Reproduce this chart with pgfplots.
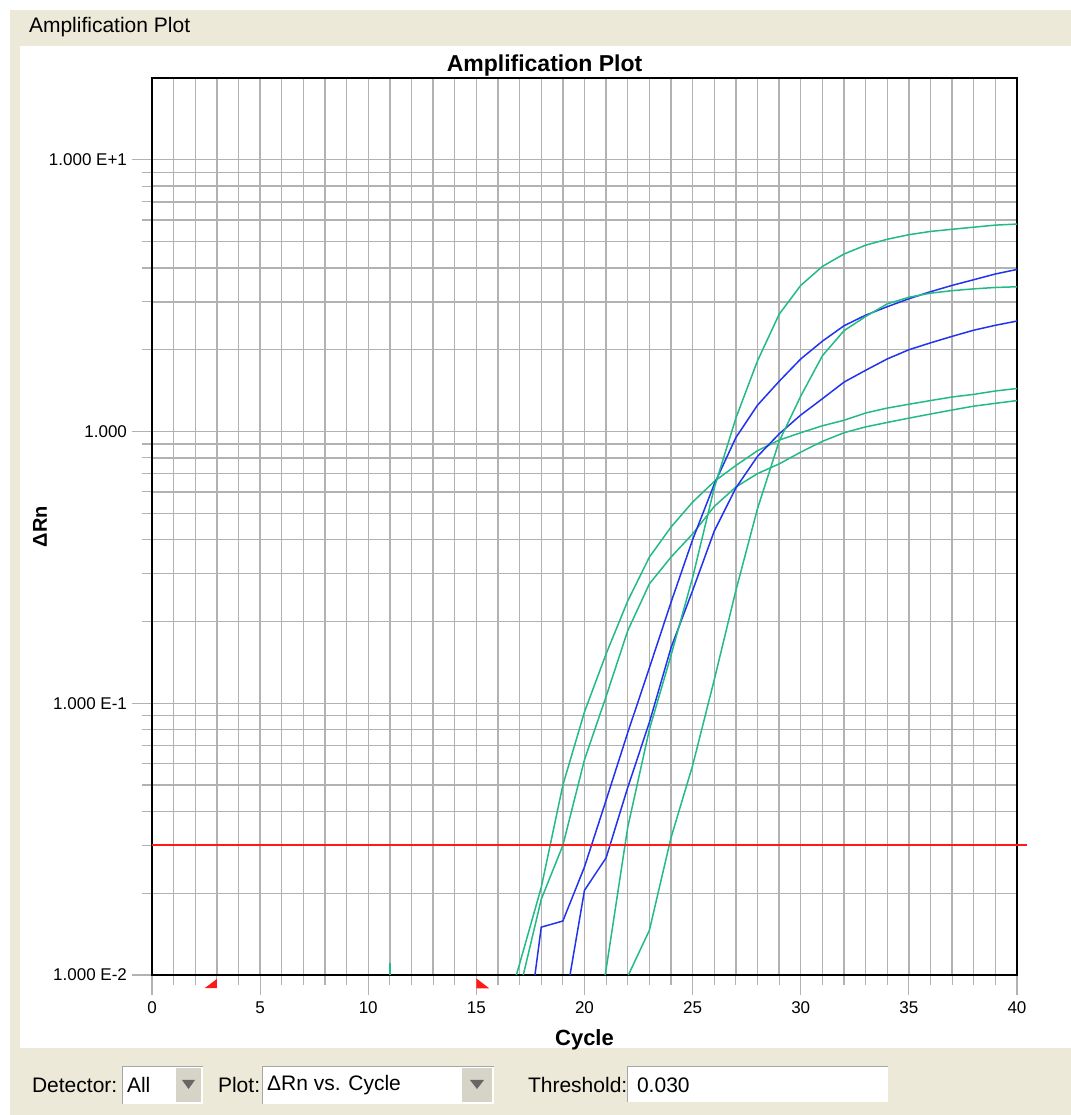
\documentclass[border=0pt]{standalone}
\usepackage{fontspec}
\setmainfont{Liberation Sans}
\usepackage{pgfplots}
\pgfplotsset{compat=1.18}
\definecolor{winbg}{HTML}{ECE9D8}
\definecolor{gridgray}{HTML}{B2B2B2}
\definecolor{ampgreen}{HTML}{22BB88}
\definecolor{ampblue}{HTML}{2233EE}
\definecolor{thresh}{HTML}{FF1A1A}

\begin{document}
\begin{tikzpicture}
% window around the plot, 1 px of the screenshot = 0.5pt
\begin{scope}[x=0.5pt,y=-0.5pt,shift={(0,557.5pt)}]
  \fill[white] (0,0) rectangle (1071,1115);
  \fill[winbg] (10,10) rectangle (1071,1115);
  \fill[white] (20,46) rectangle (1071,1048);
  \node[anchor=west,font=\fontsize{10.5}{12}\selectfont] at (22,27) {Amplification Plot};
  \node[font=\bfseries\fontsize{11.5}{13}\selectfont] at (544.5,66) {Amplification Plot};
  % controls
  \node[anchor=west,font=\fontsize{10.5}{12}\selectfont] at (25,1085) {Detector:};
  \fill[white] (122,1066) rectangle (203,1104);
  \draw[gray!70] (122,1104) -- (122,1066) -- (203,1066);
  \fill[winbg!80!gray] (176,1068) rectangle (201,1102);
  \fill[gray!80!black] (182,1080) -- (195,1080) -- (188.5,1089) -- cycle;
  \node[anchor=west,font=\fontsize{10.5}{12}\selectfont] at (120,1085) {All};
  \node[anchor=west,font=\fontsize{10.5}{12}\selectfont] at (211,1085) {Plot:};
  \fill[white] (262,1066) rectangle (494,1104);
  \draw[gray!70] (262,1104) -- (262,1066) -- (494,1066);
  \fill[winbg!80!gray] (462,1068) rectangle (492,1102);
  \fill[gray!80!black] (470,1080) -- (484,1080) -- (477,1089) -- cycle;
  \node[anchor=west,font=\fontsize{10.5}{12}\selectfont] at (260,1085) {ΔRn vs. Cycle};
  \node[anchor=west,font=\fontsize{10.5}{12}\selectfont] at (521,1085) {Threshold:};
  \fill[white] (627,1066) rectangle (888,1102);
  \draw[gray!70] (627,1102) -- (627,1066) -- (888,1066);
  \node[anchor=west,font=\fontsize{10.5}{12}\selectfont] at (630,1085) {0.030};
\end{scope}

\begin{axis}[
    at={(76pt,70pt)}, anchor=south west,
    scale only axis, width=432.5pt, height=448.5pt,
    xmin=0, xmax=40,
    ymode=log, ymin=0.01, ymax=20,
    xtick={0,5,...,40},
    minor xtick={1,2,3,4,6,7,8,9,11,12,13,14,16,17,18,19,21,22,23,24,26,27,28,29,31,32,33,34,36,37,38,39},
    ytick={0.01,0.1,1,10},
    yticklabels={1.000 E-2,1.000 E-1,1.000,1.000 E+1},
    minor ytick={0.02,0.03,0.04,0.05,0.06,0.07,0.08,0.09,0.2,0.3,0.4,0.5,0.6,0.7,0.8,0.9,2,3,4,5,6,7,8,9},
    grid=both,
    major grid style={gridgray, line width=0.7pt},
    minor grid style={gridgray, line width=0.7pt},
    tick align=outside, tick pos=left,
    major tick length=10pt, minor tick length=5pt,
    tick style={gridgray, line width=0.6pt},
    axis line style={black, line width=1.2pt},
    clip=false,
    tick label style={font=\fontsize{8.5}{10}\selectfont},
    yticklabel style={xshift=1pt},
    /pgf/number format/assume math mode=true,
    xlabel={Cycle},
    xlabel style={at={(axis description cs:0.5,-0.0725)}, anchor=center, font=\bfseries\fontsize{11}{13}\selectfont},
    ylabel={ΔRn},
    ylabel style={at={(axis description cs:-0.1295,0.5)}, anchor=center, font=\bfseries\fontsize{10}{12}\selectfont},
]
% green, Ct 18.4
\addplot[color=ampgreen, line width=0.75pt] coordinates {
 (16.85,0.010)(17,0.011)(18,0.021)(19,0.050)(20,0.093)(21,0.152)(22,0.238)
 (23,0.345)(24,0.445)(25,0.55)(26,0.655)(27,0.75)(28,0.85)(29,0.93)(30,0.99)
 (31,1.05)(32,1.10)(33,1.17)(34,1.22)(35,1.26)(36,1.30)(37,1.34)(38,1.37)
 (39,1.41)(40,1.44)};
% green, Ct 19.0
\addplot[color=ampgreen, line width=0.75pt] coordinates {
 (17.17,0.010)(18,0.019)(19,0.030)(20,0.062)(21,0.106)(22,0.185)(23,0.275)
 (24,0.345)(25,0.42)(26,0.53)(27,0.625)(28,0.70)(29,0.76)(30,0.84)(31,0.92)
 (32,0.99)(33,1.04)(34,1.08)(35,1.12)(36,1.16)(37,1.20)(38,1.24)(39,1.27)
 (40,1.30)};
% blue, Ct 20.4
\addplot[color=ampblue, line width=0.75pt] coordinates {
 (17.71,0.010)(18,0.0150)(19,0.0158)(20,0.025)(21,0.044)(22,0.078)(23,0.135)
 (24,0.235)(25,0.40)(26,0.64)(27,0.95)(28,1.25)(29,1.53)(30,1.85)(31,2.15)
 (32,2.45)(33,2.68)(34,2.88)(35,3.08)(36,3.27)(37,3.45)(38,3.62)(39,3.80)
 (40,3.95)};
% blue, Ct 21.2
\addplot[color=ampblue, line width=0.75pt] coordinates {
 (19.33,0.010)(20,0.0205)(21,0.027)(22,0.049)(23,0.085)(24,0.160)(25,0.26)
 (26,0.43)(27,0.62)(28,0.81)(29,0.98)(30,1.15)(31,1.32)(32,1.52)(33,1.68)
 (34,1.85)(35,2.00)(36,2.12)(37,2.24)(38,2.36)(39,2.46)(40,2.55)};
% green, Ct 21.9
\addplot[color=ampgreen, line width=0.75pt] coordinates {
 (20.95,0.010)(21,0.0105)(22,0.035)(23,0.080)(24,0.150)(25,0.29)(26,0.62)
 (27,1.12)(28,1.82)(29,2.70)(30,3.45)(31,4.05)(32,4.50)(33,4.85)(34,5.10)
 (35,5.30)(36,5.45)(37,5.55)(38,5.65)(39,5.75)(40,5.80)};
% green, Ct 23.9
\addplot[color=ampgreen, line width=0.75pt] coordinates {
 (22.03,0.010)(23,0.0146)(24,0.032)(25,0.059)(26,0.122)(27,0.26)(28,0.52)
 (29,0.92)(30,1.35)(31,1.90)(32,2.35)(33,2.65)(34,2.95)(35,3.12)(36,3.23)
 (37,3.30)(38,3.35)(39,3.39)(40,3.41)};
% small blip at cycle 11
\addplot[color=ampgreen, line width=0.75pt] coordinates {(11,0.010)(11,0.0111)};
% threshold
\addplot[color=thresh, line width=1pt] coordinates {(0,0.03)(40.46,0.03)};
% baseline start / end markers
\fill[thresh] (axis cs:3,0.01) ++(-6pt,-6.5pt) -- ++(6pt,0pt) -- ++(0pt,4.5pt) -- cycle;
\fill[thresh] (axis cs:15,0.01) ++(0pt,-1.7pt) -- ++(0pt,-5pt) -- ++(6.5pt,0pt) -- cycle;
\end{axis}
\end{tikzpicture}
\end{document}
